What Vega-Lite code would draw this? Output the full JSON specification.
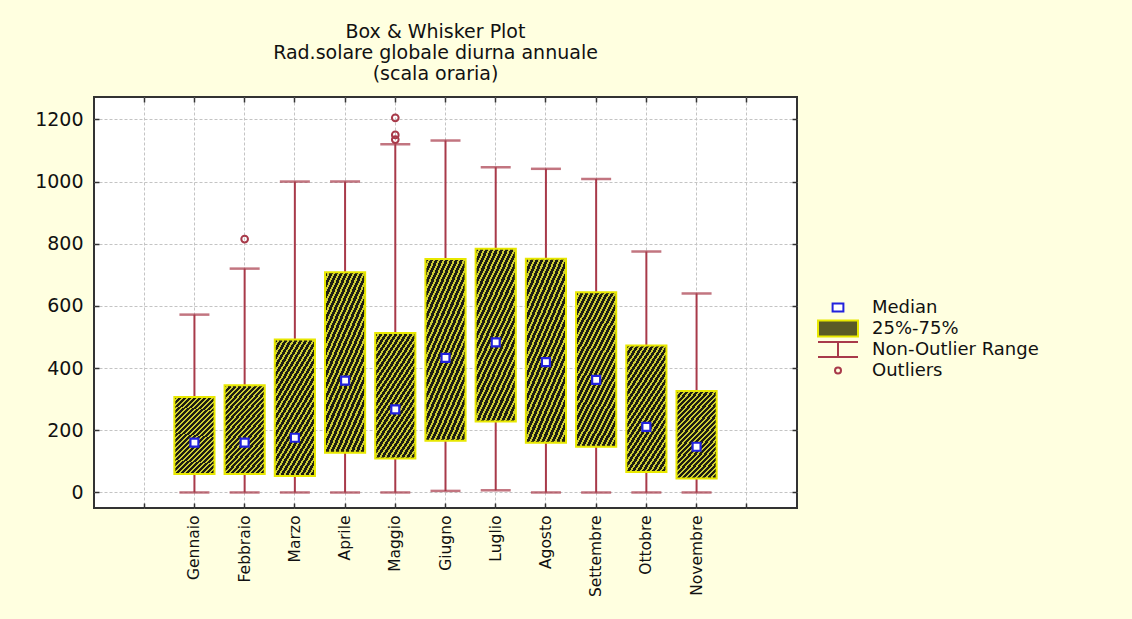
{
  "$schema": "https://vega.github.io/schema/vega-lite/v6.json",
  "width": 703,
  "height": 411,
  "autosize": {"type": "none"},
  "padding": {"left": 94, "top": 97, "right": 335, "bottom": 111},
  "background": "#ffffe0",
  "config": {
    "view": {"stroke": "#333333", "strokeWidth": 2, "fill": "white"},
    "font": "DejaVu Sans",
    "axis": {
      "domain": false,
      "gridColor": "#c4c4c4",
      "gridDash": [3, 2],
      "gridWidth": 1,
      "tickColor": "#333333",
      "tickSize": -5,
      "tickWidth": 1.5,
      "labelColor": "#111111",
      "labelFont": "DejaVu Sans",
      "title": null
    }
  },
  "title": {
    "text": ["Box & Whisker Plot", "Rad.solare globale diurna annuale", "(scala oraria)"],
    "font": "DejaVu Sans",
    "fontSize": 19,
    "fontWeight": "normal",
    "color": "#111111",
    "anchor": "middle",
    "lineHeight": 21,
    "offset": 12,
    "dx": -10
  },
  "datasets": {
    "boxes": [
      {"month": "Gennaio", "min": 0, "q1": 59, "median": 160, "q3": 307, "max": 572},
      {"month": "Febbraio", "min": 0, "q1": 59, "median": 160, "q3": 345, "max": 720},
      {"month": "Marzo", "min": 0, "q1": 53, "median": 176, "q3": 492, "max": 1000},
      {"month": "Aprile", "min": 0, "q1": 128, "median": 360, "q3": 708, "max": 1000},
      {"month": "Maggio", "min": 0, "q1": 109, "median": 267, "q3": 513, "max": 1120},
      {"month": "Giugno", "min": 5, "q1": 166, "median": 433, "q3": 751, "max": 1132},
      {"month": "Luglio", "min": 7, "q1": 228, "median": 483, "q3": 784, "max": 1046},
      {"month": "Agosto", "min": 0, "q1": 160, "median": 419, "q3": 752, "max": 1041},
      {"month": "Settembre", "min": 0, "q1": 147, "median": 362, "q3": 644, "max": 1008},
      {"month": "Ottobre", "min": 0, "q1": 66, "median": 211, "q3": 473, "max": 775},
      {"month": "Novembre", "min": 0, "q1": 45, "median": 147, "q3": 326, "max": 640}
    ],
    "outliers": [
      {"month": "Febbraio", "value": 815},
      {"month": "Maggio", "value": 1205},
      {"month": "Maggio", "value": 1150},
      {"month": "Maggio", "value": 1135}
    ],
    "legend": [
      {"k": "Median"},
      {"k": "25%-75%"},
      {"k": "Non-Outlier Range"},
      {"k": "Outliers"}
    ]
  },
  "resolve": {"axis": {"x": "independent", "y": "independent"}},
  "layer": [
    {
      "data": {"name": "boxes"},
      "mark": {"type": "rule", "color": "#a83a4a", "strokeWidth": 2},
      "encoding": {
        "x": {
          "field": "month", "type": "nominal",
          "scale": {"domain": ["_s", "Gennaio", "Febbraio", "Marzo", "Aprile", "Maggio", "Giugno", "Luglio", "Agosto", "Settembre", "Ottobre", "Novembre", "_e"], "paddingInner": 0, "paddingOuter": 0.5},
          "axis": {"orient": "bottom", "labelAngle": -90, "labelFontSize": 15.5, "labelPadding": 12, "labelExpr": "datum.value == '_s' || datum.value == '_e' ? '' : datum.value", "grid": true, "labelLimit": 200}
        },
        "y": {
          "field": "min", "type": "quantitative",
          "scale": {"domain": [-50, 1272], "nice": false, "zero": false},
          "axis": {"orient": "left", "values": [0, 200, 400, 600, 800, 1000, 1200], "format": "d", "labelFontSize": 19, "labelPadding": 16, "grid": true}
        },
        "y2": {"field": "max"}
      }
    },
    {
      "data": {"name": "boxes"},
      "mark": {"type": "tick", "color": "#a83a4a", "size": 30, "thickness": 2.5},
      "encoding": {
        "x": {"field": "month", "type": "nominal", "axis": null},
        "y": {"field": "max", "type": "quantitative", "axis": null}
      }
    },
    {
      "data": {"name": "boxes"},
      "mark": {"type": "tick", "color": "#a83a4a", "size": 30, "thickness": 2.5},
      "encoding": {
        "x": {"field": "month", "type": "nominal", "axis": null},
        "y": {"field": "min", "type": "quantitative", "axis": null}
      }
    },
    {
      "data": {"name": "boxes"},
      "mark": {
        "type": "bar", "stroke": "#e8e800", "strokeWidth": 2, "width": {"band": 0.8},
        "fill": {
          "gradient": "linear", "x1": 0, "y1": 0, "x2": 0.6, "y2": 1.2,
          "stops": [
            {"offset": 0, "color": "#1e1e12"}, {"offset": 0.025, "color": "#1e1e12"}, {"offset": 0.025, "color": "#cccc36"}, {"offset": 0.0417, "color": "#cccc36"},
            {"offset": 0.0417, "color": "#1e1e12"}, {"offset": 0.0667, "color": "#1e1e12"}, {"offset": 0.0667, "color": "#cccc36"}, {"offset": 0.0833, "color": "#cccc36"},
            {"offset": 0.0833, "color": "#1e1e12"}, {"offset": 0.1083, "color": "#1e1e12"}, {"offset": 0.1083, "color": "#cccc36"}, {"offset": 0.125, "color": "#cccc36"},
            {"offset": 0.125, "color": "#1e1e12"}, {"offset": 0.15, "color": "#1e1e12"}, {"offset": 0.15, "color": "#cccc36"}, {"offset": 0.1667, "color": "#cccc36"},
            {"offset": 0.1667, "color": "#1e1e12"}, {"offset": 0.1917, "color": "#1e1e12"}, {"offset": 0.1917, "color": "#cccc36"}, {"offset": 0.2083, "color": "#cccc36"},
            {"offset": 0.2083, "color": "#1e1e12"}, {"offset": 0.2333, "color": "#1e1e12"}, {"offset": 0.2333, "color": "#cccc36"}, {"offset": 0.25, "color": "#cccc36"},
            {"offset": 0.25, "color": "#1e1e12"}, {"offset": 0.275, "color": "#1e1e12"}, {"offset": 0.275, "color": "#cccc36"}, {"offset": 0.2917, "color": "#cccc36"},
            {"offset": 0.2917, "color": "#1e1e12"}, {"offset": 0.3167, "color": "#1e1e12"}, {"offset": 0.3167, "color": "#cccc36"}, {"offset": 0.3333, "color": "#cccc36"},
            {"offset": 0.3333, "color": "#1e1e12"}, {"offset": 0.3583, "color": "#1e1e12"}, {"offset": 0.3583, "color": "#cccc36"}, {"offset": 0.375, "color": "#cccc36"},
            {"offset": 0.375, "color": "#1e1e12"}, {"offset": 0.4, "color": "#1e1e12"}, {"offset": 0.4, "color": "#cccc36"}, {"offset": 0.4167, "color": "#cccc36"},
            {"offset": 0.4167, "color": "#1e1e12"}, {"offset": 0.4417, "color": "#1e1e12"}, {"offset": 0.4417, "color": "#cccc36"}, {"offset": 0.4583, "color": "#cccc36"},
            {"offset": 0.4583, "color": "#1e1e12"}, {"offset": 0.4833, "color": "#1e1e12"}, {"offset": 0.4833, "color": "#cccc36"}, {"offset": 0.5, "color": "#cccc36"},
            {"offset": 0.5, "color": "#1e1e12"}, {"offset": 0.525, "color": "#1e1e12"}, {"offset": 0.525, "color": "#cccc36"}, {"offset": 0.5417, "color": "#cccc36"},
            {"offset": 0.5417, "color": "#1e1e12"}, {"offset": 0.5667, "color": "#1e1e12"}, {"offset": 0.5667, "color": "#cccc36"}, {"offset": 0.5833, "color": "#cccc36"},
            {"offset": 0.5833, "color": "#1e1e12"}, {"offset": 0.6083, "color": "#1e1e12"}, {"offset": 0.6083, "color": "#cccc36"}, {"offset": 0.625, "color": "#cccc36"},
            {"offset": 0.625, "color": "#1e1e12"}, {"offset": 0.65, "color": "#1e1e12"}, {"offset": 0.65, "color": "#cccc36"}, {"offset": 0.6667, "color": "#cccc36"},
            {"offset": 0.6667, "color": "#1e1e12"}, {"offset": 0.6917, "color": "#1e1e12"}, {"offset": 0.6917, "color": "#cccc36"}, {"offset": 0.7083, "color": "#cccc36"},
            {"offset": 0.7083, "color": "#1e1e12"}, {"offset": 0.7333, "color": "#1e1e12"}, {"offset": 0.7333, "color": "#cccc36"}, {"offset": 0.75, "color": "#cccc36"},
            {"offset": 0.75, "color": "#1e1e12"}, {"offset": 0.775, "color": "#1e1e12"}, {"offset": 0.775, "color": "#cccc36"}, {"offset": 0.7917, "color": "#cccc36"},
            {"offset": 0.7917, "color": "#1e1e12"}, {"offset": 0.8167, "color": "#1e1e12"}, {"offset": 0.8167, "color": "#cccc36"}, {"offset": 0.8333, "color": "#cccc36"},
            {"offset": 0.8333, "color": "#1e1e12"}, {"offset": 0.8583, "color": "#1e1e12"}, {"offset": 0.8583, "color": "#cccc36"}, {"offset": 0.875, "color": "#cccc36"},
            {"offset": 0.875, "color": "#1e1e12"}, {"offset": 0.9, "color": "#1e1e12"}, {"offset": 0.9, "color": "#cccc36"}, {"offset": 0.9167, "color": "#cccc36"},
            {"offset": 0.9167, "color": "#1e1e12"}, {"offset": 0.9417, "color": "#1e1e12"}, {"offset": 0.9417, "color": "#cccc36"}, {"offset": 0.9583, "color": "#cccc36"},
            {"offset": 0.9583, "color": "#1e1e12"}, {"offset": 0.9833, "color": "#1e1e12"}, {"offset": 0.9833, "color": "#cccc36"}, {"offset": 1, "color": "#cccc36"}
          ]
        }
      },
      "encoding": {
        "x": {"field": "month", "type": "nominal", "axis": null},
        "y": {"field": "q1", "type": "quantitative", "axis": null},
        "y2": {"field": "q3"}
      }
    },
    {
      "data": {"name": "boxes"},
      "mark": {"type": "point", "shape": "square", "size": 64, "fill": "white", "filled": true, "stroke": "#2222dd", "strokeWidth": 2.2, "opacity": 1},
      "encoding": {
        "x": {"field": "month", "type": "nominal", "axis": null},
        "y": {"field": "median", "type": "quantitative", "axis": null}
      }
    },
    {
      "data": {"name": "outliers"},
      "mark": {"type": "point", "shape": "circle", "size": 45, "filled": false, "stroke": "#a83a4a", "strokeWidth": 2, "opacity": 1},
      "encoding": {
        "x": {"field": "month", "type": "nominal", "axis": null},
        "y": {"field": "value", "type": "quantitative", "axis": null}
      }
    },
    {
      "data": {"name": "boxes"},
      "mark": {"type": "point", "opacity": 0},
      "encoding": {
        "x": {"field": "month", "type": "nominal", "axis": {"orient": "top", "labels": false, "grid": false}},
        "y": {"field": "min", "type": "quantitative", "axis": {"orient": "right", "labels": false, "grid": false, "values": [0, 200, 400, 600, 800, 1000, 1200]}}
      }
    },
    {
      "data": {"name": "legend"},
      "mark": {"type": "point", "clip": true, "size": 1600, "strokeWidth": 2, "opacity": 1},
      "encoding": {
        "y": {"datum": 100000, "type": "quantitative", "axis": null},
        "shape": {
          "field": "k", "type": "nominal",
          "scale": {"domain": ["Median", "25%-75%", "Non-Outlier Range", "Outliers"], "range": ["M-0.27,-0.2H0.27V0.2H-0.27Z", "M-1,-0.4H1V0.4H-1Z", "M-1,-0.38H1M0,-0.38V0.38M-1,0.38H1", "M-0.15,0A0.15,0.15 0 1,1 0.15,0A0.15,0.15 0 1,1 -0.15,0Z"]},
          "legend": {"title": null, "orient": "none", "legendX": 723, "legendY": 200, "symbolSize": 1600, "symbolStrokeWidth": 2, "symbolOpacity": 1, "clipHeight": 21, "rowPadding": 0, "labelOffset": 13, "labelFontSize": 18, "labelFont": "DejaVu Sans", "labelColor": "#111111", "labelLimit": 400, "padding": 0}
        },
        "fill": {
          "field": "k", "type": "nominal",
          "scale": {"domain": ["Median", "25%-75%", "Non-Outlier Range", "Outliers"], "range": ["#ffffff", "#5a5a26", "transparent", "transparent"]},
          "legend": {"title": null, "orient": "none", "legendX": 723, "legendY": 200, "symbolSize": 1600, "symbolStrokeWidth": 2, "symbolOpacity": 1, "clipHeight": 21, "rowPadding": 0, "labelOffset": 13, "labelFontSize": 18, "labelFont": "DejaVu Sans", "labelColor": "#111111", "labelLimit": 400, "padding": 0}
        },
        "stroke": {
          "field": "k", "type": "nominal",
          "scale": {"domain": ["Median", "25%-75%", "Non-Outlier Range", "Outliers"], "range": ["#2222dd", "#e8e800", "#a83a4a", "#a83a4a"]},
          "legend": {"title": null, "orient": "none", "legendX": 723, "legendY": 200, "symbolSize": 1600, "symbolStrokeWidth": 2, "symbolOpacity": 1, "clipHeight": 21, "rowPadding": 0, "labelOffset": 13, "labelFontSize": 18, "labelFont": "DejaVu Sans", "labelColor": "#111111", "labelLimit": 400, "padding": 0}
        }
      }
    }
  ]
}
